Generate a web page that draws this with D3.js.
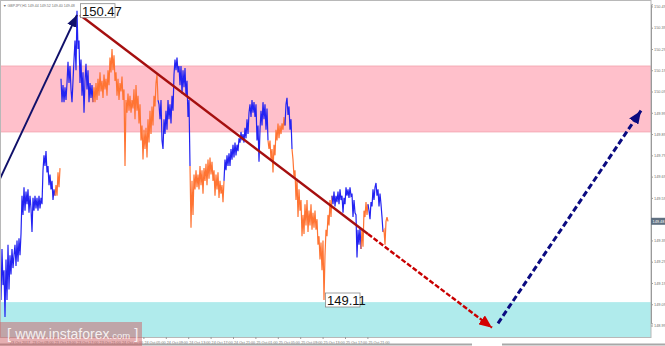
<!DOCTYPE html>
<html>
<head>
<meta charset="utf-8">
<script src="https://cdn.jsdelivr.net/npm/d3@7"></script>
<style>
  body { margin: 0; background: #fff; }
  svg { display: block; font-family: "Liberation Sans", Arial, sans-serif; }
</style>
</head>
<body>
<svg id="chart" width="665" height="346"></svg>
<script>
// GBPJPY H1 wave chart - price bars, zones and wave arrows

const chartTitle = "GBPJPY,H1  149.44 149.52 149.40 149.48";

// right axis price labels
const priceTicks = [148.99, 149.09, 149.19, 149.29, 149.39, 149.49, 149.59, 149.69,
                    149.79, 149.89, 149.99, 150.09, 150.19, 150.29, 150.39, 150.49];

// bottom axis time labels
const timeLabels = ["23 Oct 2017", "23 Oct 09:00", "23 Oct 13:00", "23 Oct 17:00", "23 Oct 21:00",
                    "24 Oct 01:00", "24 Oct 05:00", "24 Oct 09:00", "24 Oct 13:00", "24 Oct 17:00",
                    "24 Oct 21:00", "25 Oct 01:00", "25 Oct 05:00", "25 Oct 09:00", "25 Oct 13:00",
                    "25 Oct 17:00", "25 Oct 21:00"];
const labelStart = 9;
const labelStep = 22.4;

// price samples (one per time step), first block
const earlyPrices = [
  149.27,149.11,149.35,149.18,149.25,149.03,149.30,149.11,149.37,149.16,
  149.32,149.23,149.35,149.26,149.32,149.37,149.27,149.39,149.29,149.40,
  149.32,149.42,149.60,149.51,149.64,149.53,149.62,149.56,149.63,149.52,
  149.60,149.54,149.43,149.59,149.53,149.60,149.54,149.59,149.53,149.60,
  149.54,149.59,149.56,149.72,149.79,149.74,149.81,149.71,149.74,149.65,
  149.70,149.63,149.67,149.58,149.63,149.60,149.65,149.60,149.71,149.64,
  149.73
];

// main block starts at step 61
const mainStart = 61;
const mainPrices = [
  150.15,150.04,150.12,150.04,150.11,150.05,150.13,150.23,150.13,150.21,
  150.10,150.04,150.14,150.24,150.33,150.19,150.47,150.29,150.33,150.13,
  150.24,150.07,150.18,149.99,150.14,150.22,150.10,150.19,150.04,150.13,
  150.06,150.12,150.04,150.11,150.04,150.13,150.05,150.15,150.07,150.18,
  150.09,150.14,150.06,150.17,150.10,150.15,150.07,150.19,150.12,150.25,
  150.18,150.29,150.19,150.26,150.14,150.18,150.07,150.15,150.05,150.13,
  150.09,150.16,150.05,150.10,149.74,150.05,149.99,150.08,150.00,150.07,
  149.99,150.05,150.01,150.10,149.96,150.12,150.00,150.07,149.94,150.03,
  149.86,149.93,149.77,149.91,149.82,149.92,149.78,149.96,149.85,150.00,
  149.89,150.02,149.93,150.07,150.02,150.13,150.17,150.05,150.03,149.96,
  150.05,149.86,149.82,149.96,149.89,150.00,149.91,150.05,149.96,150.03,
  149.94,150.07,150.00,150.17,150.24,150.19,150.25,150.18,150.21,150.12,
  150.21,150.08,150.19,150.11,150.20,150.07,150.14,149.97,150.05,149.74,
  149.45,149.67,149.51,149.70,149.63,149.72,149.64,149.70,149.63,149.74,
  149.65,149.72,149.61,149.73,149.67,149.75,149.65,149.77,149.68,149.78,
  149.70,149.76,149.67,149.72,149.60,149.70,149.63,149.71,149.59,149.67,
  149.61,149.65,149.57,149.67,149.77,149.72,149.79,149.74,149.80,149.74,
  149.82,149.77,149.84,149.78,149.85,149.79,149.84,149.81,149.87,149.85,
  149.90,149.86,149.89,149.85,149.92,149.87,149.96,149.89,149.99,150.03,
  149.97,150.05,149.99,150.04,149.97,150.03,149.86,149.93,149.76,149.91,
  150.00,149.93,150.04,149.96,150.03,149.91,150.01,149.86,149.82,149.86,
  149.77,149.82,149.71,149.84,149.79,149.91,149.86,149.94,149.87,149.93,
  149.89,149.94,149.91,149.97,149.93,150.03,150.06,149.98,150.02,149.91,
  149.96,149.82,149.77,149.69,149.72,149.58,149.68,149.50,149.63,149.53,
  149.58,149.41,149.51,149.42,149.56,149.46,149.58,149.43,149.53,149.46,
  149.56,149.44,149.52,149.45,149.53,149.44,149.49,149.37,149.41,149.30,
  149.38,149.25,149.39,149.11,149.32,149.44,149.41,149.51,149.46,149.58,
  149.50,149.60,149.56,149.62,149.55,149.60,149.57,149.62,149.56,149.63,
  149.58,149.60,149.52,149.59,149.56,149.64,149.60,149.63,149.59,149.64,
  149.60,149.61,149.50,149.58,149.52,149.51,149.31,149.44,149.37,149.45,
  149.35,149.44,149.36,149.53,149.50,149.57,149.51,149.56,149.53,149.49,
  149.57,149.55,149.63,149.58,149.64,149.66,149.60,149.63,149.55,149.61,
  149.56,149.50,149.43,149.44,149.37,149.48,149.50,149.48
];

// colour legs: step where each leg begins and its direction
const legStart = [0, 56, 61, 94, 159, 191, 225, 269, 286, 293, 333, 362, 369, 384];
const legDir = ["up", "down", "up", "down", "up", "down", "up", "down", "up", "down", "up", "down", "up", "down"];

// zones (price ranges)
const resistanceZone = [149.90, 150.21];
const supportZone = [148.90, 149.10];

// marked extremes
const extremeStep = [77, 324];
const extremePrice = [150.47, 149.11];
const lastPrice = 149.48;

// wave arrows [step, price]
const impulseArrow = [[-10, 149.58], [77, 150.45]];
const downArrowSolid = [[80, 150.45], [368, 149.42]];
const downArrowDashed = [[368, 149.42], [492, 148.98]];
const upArrowDashed = [[498, 149.00], [641, 150.00]];

// ---- layout ----
const width = 665, height = 346;
const plot = { left: 0, top: 0, right: 651, bottom: 337 };

const svg = d3.select("#chart");

const xScale = d3.scaleLinear()
    .domain([0, 651])
    .range([plot.left, plot.right]);

const yScale = d3.scaleLinear()
    .domain([149.0, 150.5])
    .range([323.4, 4.3]);

const colors = { up: "#2323f2", down: "#ff7433" };

// clip for plot area
const defs = svg.append("defs");
defs.append("clipPath").attr("id", "plotClip")
  .append("rect")
    .attr("x", plot.left).attr("y", plot.top)
    .attr("width", plot.right - plot.left).attr("height", plot.bottom - plot.top);

function addMarker(id, color, len, wid) {
  defs.append("marker")
      .attr("id", id)
      .attr("markerUnits", "userSpaceOnUse")
      .attr("markerWidth", len).attr("markerHeight", wid)
      .attr("refX", len).attr("refY", wid / 2)
      .attr("orient", "auto")
    .append("path")
      .attr("d", `M0,0 L${len},${wid / 2} L0,${wid} Z`)
      .attr("fill", color);
}
addMarker("headNavy", "#10106a", 12, 10);
addMarker("headRed", "#d40000", 13, 11);
addMarker("headNavyDash", "#0a0a80", 13, 11);

const g = svg.append("g").attr("clip-path", "url(#plotClip)");

// zones
g.append("rect")
    .attr("x", plot.left)
    .attr("y", yScale(resistanceZone[1]))
    .attr("width", plot.right - plot.left)
    .attr("height", yScale(resistanceZone[0]) - yScale(resistanceZone[1]))
    .attr("fill", "#ffc0cb")
    .attr("stroke", "#f2a2ad")
    .attr("stroke-width", 0.8);

g.append("rect")
    .attr("x", plot.left)
    .attr("y", yScale(supportZone[1]))
    .attr("width", plot.right - plot.left)
    .attr("height", yScale(supportZone[0]) - yScale(supportZone[1]))
    .attr("fill", "#b0ebec");

// price samples
const samples = earlyPrices.map((p, i) => ({ s: i, p }))
  .concat(mainPrices.map((p, i) => ({ s: mainStart + i, p })));
const lastStep = samples[samples.length - 1].s;

const line = d3.line()
    .x(d => xScale(d.s))
    .y(d => yScale(d.p));

legStart.forEach((start, k) => {
  const end = k < legStart.length - 1 ? legStart[k + 1] - 1 : lastStep;
  // connect to previous sample unless this leg opens a new block
  const from = (start === 0 || start === mainStart) ? start : start - 1;
  const pts = samples.filter(d => d.s >= from && d.s <= end);
  g.append("path")
      .datum(pts)
      .attr("d", line)
      .attr("fill", "none")
      .attr("stroke", colors[legDir[k]])
      .attr("stroke-width", 1.2)
      .attr("stroke-linejoin", "miter");
});

// wave arrows
function arrow(pts, color, w, dash, marker) {
  const p = g.append("line")
      .attr("x1", xScale(pts[0][0])).attr("y1", yScale(pts[0][1]))
      .attr("x2", xScale(pts[1][0])).attr("y2", yScale(pts[1][1]))
      .attr("stroke", color)
      .attr("stroke-width", w);
  if (dash) p.attr("stroke-dasharray", dash);
  if (marker) p.attr("marker-end", `url(#${marker})`);
  return p;
}
arrow(impulseArrow, "#10106a", 2, null, "headNavy");
arrow(downArrowSolid, "#a50f0f", 2.4, null, null);
arrow(downArrowDashed, "#c80000", 2.4, "5,2", "headRed");
arrow(upArrowDashed, "#0a0a80", 3, "6,3", "headNavyDash");

// frame
svg.append("rect")
    .attr("x", plot.left + 0.5).attr("y", plot.top + 0.5)
    .attr("width", plot.right - plot.left - 0.5)
    .attr("height", plot.bottom - plot.top)
    .attr("fill", "none")
    .attr("stroke", "#b8b8b8")
    .attr("stroke-width", 1);

// right price axis (label under the current price marker is hidden)
const lastY = yScale(lastPrice);
const yAxis = svg.append("g")
    .attr("transform", `translate(${plot.right},0)`)
    .call(d3.axisRight(yScale)
      .tickValues(priceTicks.filter(v => Math.abs(yScale(v) - lastY) > 6))
      .tickFormat(d3.format(".2f"))
      .tickSize(2)
      .tickPadding(1));
yAxis.select(".domain").attr("stroke", "#9a9a9a");
yAxis.selectAll(".tick line").attr("stroke", "#9a9a9a");
yAxis.selectAll("text").attr("font-size", 3.9).attr("fill", "#707070");

// current price marker
svg.append("rect")
    .attr("x", plot.right).attr("y", lastY - 3.5)
    .attr("width", width - plot.right).attr("height", 7)
    .attr("fill", "#5f6f80");
svg.append("text")
    .attr("x", plot.right + 1.5).attr("y", lastY + 1.4)
    .attr("font-size", 3.9).attr("fill", "#ffffff")
    .text(d3.format(".2f")(lastPrice));

// bottom time axis
const xAxis = svg.append("g")
    .attr("transform", `translate(0,${plot.bottom})`)
    .call(d3.axisBottom(xScale)
      .tickValues(timeLabels.map((_, i) => labelStart + i * labelStep))
      .tickFormat((d, i) => timeLabels[i])
      .tickSize(2)
      .tickPadding(2));
xAxis.select(".domain").remove();
xAxis.selectAll(".tick line").attr("stroke", "#9a9a9a");
xAxis.selectAll("text")
    .attr("font-size", 3.7)
    .attr("fill", "#707070")
    .attr("text-anchor", "start")
    .attr("dx", 0.5);

// bottom scrollbar edge
svg.append("line").attr("x1", 0).attr("x2", 472).attr("y1", 344.5).attr("y2", 344.5)
    .attr("stroke", "#a8a8a8").attr("stroke-width", 2);
svg.append("line").attr("x1", 502).attr("x2", width).attr("y1", 344.5).attr("y2", 344.5)
    .attr("stroke", "#a8a8a8").attr("stroke-width", 2);

// extreme price labels
extremeStep.forEach((s, i) => {
  const lx = xScale(s) + (i === 0 ? 3.5 : 1.5);
  const ly = yScale(extremePrice[i]);
  const lbl = svg.append("g").attr("transform", `translate(${lx},${ly})`);
  lbl.append("rect")
      .attr("x", 0).attr("y", -7)
      .attr("width", 34.5).attr("height", 14)
      .attr("fill", "#ffffff")
      .attr("stroke", "#8a8a8a")
      .attr("stroke-width", 0.8);
  lbl.append("text")
      .attr("x", 1.5).attr("y", 5)
      .attr("font-size", 13)
      .attr("fill", "#111")
      .text(d3.format(".2f")(extremePrice[i]));
});

// title
svg.append("text")
    .attr("x", 3).attr("y", 6.5)
    .attr("font-size", 3.6)
    .attr("fill", "#707070")
    .text("\u25BC " + chartTitle);

// watermark
const wm = svg.append("g");
wm.append("rect")
    .attr("x", 0).attr("y", 322)
    .attr("width", 142).attr("height", 24)
    .attr("fill", "rgba(205,95,100,0.5)");
const wmText = wm.append("text")
    .attr("x", 7).attr("y", 338.5)
    .attr("fill", "rgba(255,255,255,0.85)");
wmText.append("tspan").attr("font-size", 15).text("[ ");
wmText.append("tspan").attr("font-size", 14).text("www.instaforex");
wmText.append("tspan").attr("font-size", 9.5).text(".com");
wmText.append("tspan").attr("font-size", 15).text(" ]");
</script>
</body>
</html>
